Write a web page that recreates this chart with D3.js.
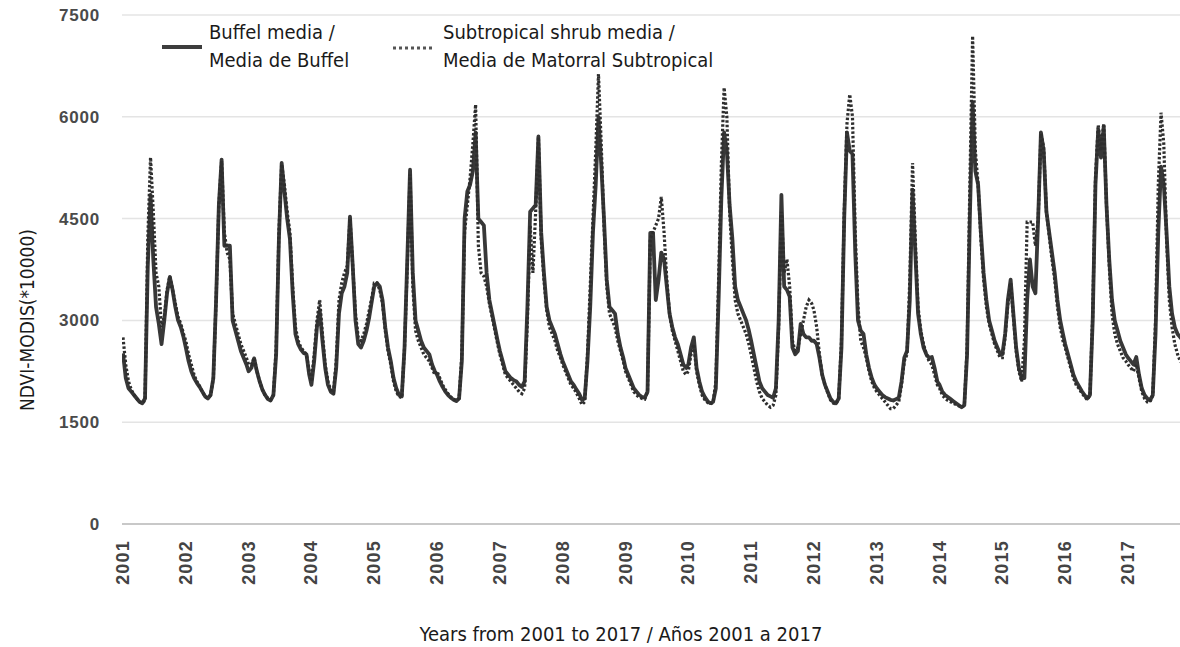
<!DOCTYPE html>
<html>
<head>
<meta charset="utf-8">
<script src="https://cdn.jsdelivr.net/npm/d3@7"></script>
<style>
  body { margin: 0; background: #fff; }
  svg { display: block; }
</style>
</head>
<body>
<svg id="chart" width="1180" height="647"></svg>
<script>
// MODIS 16-day composites, day of year of each composite
var compositeDays = [1,17,33,49,65,81,97,113,129,145,161,177,193,209,225,241,257,273,289,305,321,337,353];
var years = [2001,2002,2003,2004,2005,2006,2007,2008,2009,2010,2011,2012,2013,2014,2015,2016,2017];
var yTicks = [0,1500,3000,4500,6000,7500];

// Buffel media / Media de Buffel (one row per year)
var buffelByYear = [
  [2515,2150,2000,1950,1900,1850,1800,1780,1850,3800,4850,3900,3200,2950,2650,3000,3400,3640,3450,3200,3000,2900,2750],
  [2600,2400,2250,2150,2080,2020,1950,1880,1850,1900,2150,3300,4700,5370,4100,4100,4100,3000,2850,2700,2550,2450,2350],
  [2250,2300,2440,2250,2100,1980,1900,1840,1820,1900,2500,4200,5320,4900,4500,4200,3400,2800,2650,2570,2520,2500,2200],
  [2050,2400,2900,3150,2700,2300,2050,1950,1920,2300,3100,3400,3500,3700,4530,3800,3000,2650,2600,2700,2850,3050,3300],
  [3500,3550,3500,3300,2900,2600,2400,2150,2000,1900,1880,2600,3900,5220,3700,3000,2850,2700,2600,2550,2500,2350,2250],
  [2200,2100,2020,1950,1900,1860,1830,1810,1850,2400,4500,4900,5000,5200,5770,4500,4450,4400,3700,3300,3100,2900,2700],
  [2550,2400,2250,2200,2150,2120,2100,2050,2020,2100,3200,4600,4650,4700,5710,4300,3700,3200,3000,2900,2800,2650,2500],
  [2400,2300,2200,2100,2050,1980,1920,1830,1850,2400,3200,4300,5000,6000,5300,4500,3600,3200,3150,3100,2800,2600,2450],
  [2300,2200,2100,2000,1950,1900,1870,1860,1950,4290,4290,3300,3600,4000,3900,3500,3100,2900,2750,2650,2500,2350,2300],
  [2350,2600,2750,2300,2100,1950,1870,1810,1780,1800,2000,3300,4800,5770,5500,4700,4200,3500,3300,3200,3100,3000,2850],
  [2700,2500,2300,2100,2000,1950,1900,1880,1860,2000,3000,4850,3500,3450,3350,2600,2500,2550,2950,2800,2750,2750,2700],
  [2700,2650,2450,2200,2050,1950,1850,1800,1780,1850,2600,4500,5770,5500,5450,4000,3000,2850,2800,2500,2300,2150,2050],
  [2000,1950,1900,1870,1850,1830,1820,1840,1860,2100,2450,2550,3300,4925,4000,3100,2800,2600,2500,2450,2460,2300,2100],
  [2050,1950,1900,1870,1840,1810,1780,1750,1720,1750,2500,4500,6210,5200,5000,4300,3700,3300,3000,2850,2700,2600,2500],
  [2500,2800,3300,3600,3100,2600,2300,2150,2150,3300,3900,3500,3400,4500,5770,5500,4600,4300,4000,3700,3300,3000,2800],
  [2650,2500,2350,2200,2100,2030,1960,1900,1850,1900,3000,5000,5810,5400,5860,4700,3900,3300,3000,2850,2700,2600,2500],
  [2450,2400,2350,2460,2200,2000,1900,1850,1820,1900,2800,4300,5265,5000,4300,3500,3100,2900,2800,2750,2700,2650,2600]
];

// Subtropical shrub media / Media de Matorral Subtropical
var shrubByYear = [
  [2750,2350,2100,1980,1900,1850,1800,1780,1820,4200,5400,4600,3700,3500,2900,3050,3450,3650,3450,3250,3050,2950,2800],
  [2700,2500,2350,2200,2100,2030,1950,1880,1860,1900,2150,3300,4700,5350,4300,4000,3900,3100,2950,2800,2650,2550,2450],
  [2350,2350,2450,2250,2100,1980,1900,1850,1830,1900,2600,4300,5300,5000,4600,4300,3500,2900,2700,2600,2550,2500,2250],
  [2100,2500,3000,3300,2800,2350,2100,1970,1940,2400,3300,3550,3700,3800,4500,3800,3100,2750,2700,2800,2950,3150,3350],
  [3550,3550,3450,3250,2850,2550,2350,2100,1950,1880,1860,2600,3800,5150,3500,2850,2700,2600,2500,2450,2400,2300,2200],
  [2250,2150,2050,1980,1920,1870,1840,1820,1850,2500,4300,4700,5100,5600,6180,4100,3700,3650,3500,3250,3050,2850,2650],
  [2500,2350,2200,2150,2100,2050,2000,1950,1920,2000,3000,4400,3700,4600,5700,4200,3600,3150,2900,2800,2700,2550,2450],
  [2350,2250,2150,2050,2000,1930,1850,1760,1800,2500,3500,4500,5500,6630,5600,4400,3500,3100,3000,2900,2700,2550,2400],
  [2250,2150,2050,1950,1900,1870,1850,1840,1950,4200,4300,4400,4500,4820,4300,3600,3100,2850,2700,2550,2400,2250,2200],
  [2250,2500,2650,2250,2050,1900,1830,1790,1770,1790,2100,3600,5300,6430,6000,4600,3900,3300,3100,3000,2900,2800,2650],
  [2500,2300,2100,1950,1850,1800,1750,1720,1750,1900,2900,4600,3700,3900,3500,2700,2550,2600,2800,3000,3200,3300,3250],
  [3150,2900,2500,2200,2050,1930,1830,1780,1770,1850,2700,4600,5900,6330,6000,4300,3200,2700,2600,2450,2250,2100,2000],
  [1950,1900,1850,1800,1750,1700,1700,1750,1800,2050,2400,2500,3600,5320,4200,3200,2850,2650,2500,2400,2350,2200,2050],
  [2000,1900,1850,1820,1800,1780,1760,1740,1720,1750,2600,5000,7190,5500,5000,4200,3600,3200,2950,2800,2650,2550,2450],
  [2450,2750,3250,3550,3050,2550,2250,2100,2700,4450,4450,4450,4100,4500,5750,5550,4600,4250,3900,3600,3200,2900,2700],
  [2600,2450,2300,2150,2050,2000,1930,1880,1830,1900,3100,5100,5880,5500,5900,4700,3800,3100,2800,2650,2550,2450,2400],
  [2350,2300,2250,2350,2150,1950,1850,1800,1800,1900,3000,5000,6060,5600,4200,3300,2900,2650,2500,2400,2350,2300,2250]
];

function toSeries(rows) {
  var out = [];
  for (var i = 0; i < years.length; i++) {
    for (var j = 0; j < compositeDays.length; j++) {
      out.push({ t: years[i] + (compositeDays[j] - 1) / 365, v: rows[i][j] });
    }
  }
  return out;
}

var svg = d3.select("#chart");
var labelFont = "'DejaVu Sans Condensed', 'Liberation Sans Narrow', sans-serif";
var tickFont = "'Liberation Sans', Arial, sans-serif";

var x = d3.scaleLinear().domain([2001, 2017]).range([123, 1128]);
var y = d3.scaleLinear().domain([0, 7500]).range([524, 15]);
var plotLeft = 122, plotRight = 1180;

// gridlines
svg.append("g")
  .selectAll("line")
  .data(yTicks)
  .enter()
  .append("line")
  .attr("x1", plotLeft)
  .attr("x2", plotRight)
  .attr("y1", function(d) { return y(d); })
  .attr("y2", function(d) { return y(d); })
  .attr("stroke", function(d) { return d === 0 ? "#c8c8c8" : "#e4e4e4"; })
  .attr("stroke-width", function(d) { return d === 0 ? 2 : 1.5; });

// y tick labels
svg.append("g")
  .selectAll("text")
  .data(yTicks)
  .enter()
  .append("text")
  .attr("x", 100)
  .attr("y", function(d) { return y(d) + 6; })
  .attr("text-anchor", "end")
  .attr("font-family", tickFont)
  .attr("font-size", 17)
  .attr("font-weight", "bold")
  .attr("letter-spacing", 0.8)
  .attr("fill", "#4a4a4a")
  .text(function(d) { return d; });

// x tick labels, rotated
svg.append("g")
  .selectAll("text")
  .data(years)
  .enter()
  .append("text")
  .attr("transform", function(d) { return "translate(" + (x(d) + 6) + ",540) rotate(-90)"; })
  .attr("text-anchor", "end")
  .attr("font-family", tickFont)
  .attr("font-size", 18)
  .attr("font-weight", "bold")
  .attr("letter-spacing", 1.2)
  .attr("fill", "#444")
  .text(function(d) { return d; });

svg.append("defs").append("clipPath").attr("id", "plotclip")
  .append("rect").attr("x", plotLeft).attr("y", 0).attr("width", plotRight - plotLeft).attr("height", 530);

var line = d3.line()
  .x(function(d) { return x(d.t); })
  .y(function(d) { return y(d.v); });

var plot = svg.append("g").attr("clip-path", "url(#plotclip)");

plot.append("path")
  .datum(toSeries(buffelByYear))
  .attr("d", line)
  .attr("fill", "none")
  .attr("stroke", "#383838")
  .attr("stroke-width", 3.8)
  .attr("stroke-linejoin", "round");

plot.append("path")
  .datum(toSeries(shrubByYear))
  .attr("d", line)
  .attr("fill", "none")
  .attr("stroke", "#2e2e2e")
  .attr("stroke-width", 3.2)
  .attr("stroke-dasharray", "2.5,2");

// legend
var legend = svg.append("g");
legend.append("line")
  .attr("x1", 162).attr("x2", 202).attr("y1", 47).attr("y2", 47)
  .attr("stroke", "#3d3d3d").attr("stroke-width", 4);
legend.append("line")
  .attr("x1", 393).attr("x2", 433).attr("y1", 48).attr("y2", 48)
  .attr("stroke", "#555").attr("stroke-width", 3).attr("stroke-dasharray", "3,3");

var legendText = [
  { x: 209, lines: ["Buffel media /", "Media de Buffel"] },
  { x: 443, lines: ["Subtropical shrub media /", "Media de Matorral Subtropical"] }
];
legendText.forEach(function(item) {
  var t = legend.append("text")
    .attr("font-family", labelFont)
    .attr("font-size", 20)
    .attr("fill", "#1a1a1a");
  item.lines.forEach(function(s, i) {
    t.append("tspan").attr("x", item.x).attr("y", 39 + i * 28).text(s);
  });
});

// axis titles
svg.append("text")
  .attr("transform", "translate(34,320) rotate(-90)")
  .attr("text-anchor", "middle")
  .attr("font-family", labelFont)
  .attr("font-size", 19)
  .attr("fill", "#1a1a1a")
  .text("NDVI-MODIS(*10000)");

svg.append("text")
  .attr("x", 621)
  .attr("y", 641)
  .attr("text-anchor", "middle")
  .attr("font-family", labelFont)
  .attr("font-size", 20)
  .attr("fill", "#1a1a1a")
  .text("Years from 2001 to 2017 / Años 2001 a 2017");
</script>
</body>
</html>
